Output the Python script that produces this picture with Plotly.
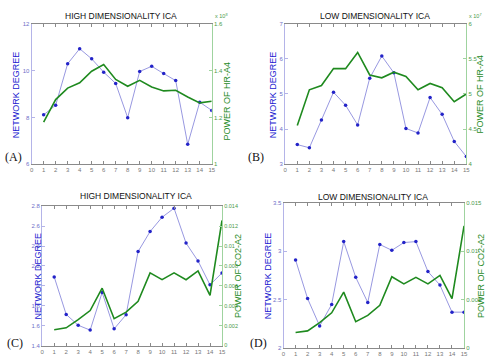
import plotly.graph_objects as go

x = list(range(1, 16))

# Panel A: high dimensionality ICA, HR-A4
deg_a = [8.11, 8.52, 10.29, 10.93, 10.5, 9.93, 9.45, 7.99, 9.96, 10.18, 9.87, 9.57, 6.85, 8.65, 8.3]
pow_a = [1.18, 1.276, 1.325, 1.348, 1.397, 1.426, 1.362, 1.333, 1.358, 1.33, 1.313, 1.316, 1.287, 1.262, 1.269]
# Panel B: low dimensionality ICA, HR-A4
deg_b = [3.56, 3.47, 4.26, 5.05, 4.68, 4.12, 5.45, 6.08, 5.6, 4.02, 3.89, 4.9, 4.42, 3.65, 3.22]
pow_b = [4.55, 5.06, 5.12, 5.36, 5.36, 5.59, 5.27, 5.23, 5.31, 5.25, 5.06, 5.15, 5.09, 4.89, 5.0]
# Panel C: high dimensionality ICA, CO2-A2
deg_c = [2.09, 1.713, 1.604, 1.555, 1.934, 1.568, 1.71, 2.345, 2.546, 2.69, 2.78, 2.43, 2.25, 2.01, 2.13]
pow_c = [0.00158, 0.00178, 0.0026, 0.00352, 0.00576, 0.0027, 0.00336, 0.00445, 0.00731, 0.00662, 0.00731, 0.00662, 0.0075, 0.00504, 0.01258]
# Panel D: low dimensionality ICA, CO2-A2
deg_d = [2.91, 2.51, 2.227, 2.45, 3.1, 2.73, 2.47, 3.07, 3.01, 3.09, 3.1, 2.79, 2.65, 2.37, 2.37]
pow_d = [0.0016, 0.00176, 0.00261, 0.00363, 0.00577, 0.00271, 0.00336, 0.00441, 0.00736, 0.00662, 0.0073, 0.00662, 0.0075, 0.00509, 0.01262]

titles = ["HIGH DIMENSIONALITY ICA", "LOW DIMENSIONALITY ICA", "HIGH DIMENSIONALITY ICA", "LOW DIMENSIONALITY ICA"]
right_titles = ["POWER OF HR-A4", "POWER OF HR-A4", "POWER OF CO2-A2", "POWER OF CO2-A2"]
panel_labels = ["(A)", "(B)", "(C)", "(D)"]
left_ranges = [[6, 12], [3, 7], [1.4, 2.8], [2, 3.5]]
left_dticks = [2, 1, 0.2, 0.5]
right_ranges = [[1, 1.6], [4, 6], [0, 0.014], [0, 0.015]]
right_dticks = [0.2, 0.5, 0.002, 0.005]
exponents = ["x 10<sup>8</sup>", "x 10<sup>7</sup>", None, None]

W, H = 495, 363
# plot boxes in pixels: left, right, top, bottom
boxes = [(30, 212.3, 21, 164), (286.7, 470, 21, 164), (40.7, 222.7, 206.7, 348.3), (285, 467.7, 203.3, 350.7)]
title_pos = [(120, 13.3), (378, 13.3), (136, 196.7), (376, 197.3)]
left_lab = [(15, 93), (275, 93), (36, 277.5), (270, 277)]
right_lab = [(228, 100), (484, 93), (239.5, 278), (485, 277.5)]
panel_pos = [(12, 157), (257, 157), (13, 345.7), (260, 345.7)]

BLUE_LINE = "#9898e0"
BLUE_MK = "#2323c8"
GREEN = "#1f8a1f"
LAV_AXIS = "#b4b4e8"
GREEN_AXIS = "#9fd39f"
GRAY = "#8a8a8a"
FONT = "Liberation Sans, Arial, sans-serif"

degs = [deg_a, deg_b, deg_c, deg_d]
pows = [pow_a, pow_b, pow_c, pow_d]

fig = go.Figure()
layout = dict(width=W, height=H, margin=dict(l=0, r=0, t=0, b=0),
              paper_bgcolor="white", plot_bgcolor="white", showlegend=False)
annotations = []

for i in range(4):
    xa = "x" if i == 0 else f"x{i+1}"
    yl = f"y{2*i+1}" if i > 0 else "y"
    yr = f"y{2*i+2}"
    xkey = "xaxis" if i == 0 else f"xaxis{i+1}"
    ylkey = "yaxis" if i == 0 else f"yaxis{2*i+1}"
    yrkey = f"yaxis{2*i+2}"
    l, r, t, b = boxes[i]
    xd = [l / W, r / W]
    yd = [1 - b / H, 1 - t / H]

    fig.add_trace(go.Scatter(x=x, y=degs[i], xaxis=xa, yaxis=yl, mode="lines+markers",
                             line=dict(color=BLUE_LINE, width=1),
                             marker=dict(color=BLUE_MK, size=3.5, symbol="circle")))
    fig.add_trace(go.Scatter(x=x, y=pows[i], xaxis=xa, yaxis=yr, mode="lines",
                             line=dict(color=GREEN, width=1.6)))

    layout[xkey] = dict(domain=xd, anchor=yl, range=[0, 15], tickmode="linear", tick0=0, dtick=1,
                        showgrid=False, zeroline=False, showline=True, linecolor=GRAY, linewidth=1,
                        mirror="ticks", ticks="inside", ticklen=3, tickcolor=GRAY,
                        tickfont=dict(size=6, color="#777777", family=FONT))
    layout[ylkey] = dict(domain=yd, anchor=xa, range=left_ranges[i], tickmode="linear",
                         tick0=left_ranges[i][0], dtick=left_dticks[i],
                         showgrid=False, zeroline=False, showline=True, linecolor=LAV_AXIS, linewidth=1.2,
                         ticks="inside", ticklen=3, tickcolor=LAV_AXIS,
                         tickfont=dict(size=6, color="#7070c8", family=FONT))
    layout[yrkey] = dict(overlaying=yl, anchor=xa, side="right", range=right_ranges[i], tickmode="linear",
                         tick0=right_ranges[i][0], dtick=right_dticks[i],
                         showgrid=False, zeroline=False, showline=True, linecolor=GREEN_AXIS, linewidth=1.2,
                         ticks="inside", ticklen=3, tickcolor=GREEN_AXIS,
                         tickfont=dict(size=5.5 if i == 2 else 6, color="#4a9a4a", family=FONT))

    tx, ty = title_pos[i]
    annotations.append(dict(text=titles[i], x=tx / W, y=1 - ty / H, xref="paper", yref="paper",
                            showarrow=False, xanchor="center", yanchor="middle",
                            font=dict(size=8.5, color="#111111", family=FONT)))
    lx, ly = left_lab[i]
    annotations.append(dict(text="NETWORK DEGREE", x=lx / W, y=1 - ly / H, xref="paper", yref="paper",
                            showarrow=False, textangle=-90, xanchor="center", yanchor="middle",
                            font=dict(size=9, color="#2020d0", family=FONT)))
    rx, ry = right_lab[i]
    annotations.append(dict(text=right_titles[i], x=rx / W, y=1 - ry / H, xref="paper", yref="paper",
                            showarrow=False, textangle=-90, xanchor="center", yanchor="middle",
                            font=dict(size=9, color="#1e8a1e", family=FONT)))
    px, py = panel_pos[i]
    annotations.append(dict(text=panel_labels[i], x=px / W, y=1 - py / H, xref="paper", yref="paper",
                            showarrow=False, xanchor="center", yanchor="middle",
                            font=dict(size=12, color="#111111", family="Liberation Serif, Times New Roman, serif")))
    if exponents[i]:
        annotations.append(dict(text=exponents[i], x=(r + 1) / W, y=1 - (t - 8) / H, xref="paper", yref="paper",
                                showarrow=False, xanchor="left", yanchor="middle",
                                font=dict(size=5.5, color="#4a9a4a", family=FONT)))

layout["annotations"] = annotations
fig.update_layout(**layout)
fig.write_html("out.html", config={"displayModeBar": False},
               post_script="document.body.style.margin='0';document.body.style.overflow='hidden';")
